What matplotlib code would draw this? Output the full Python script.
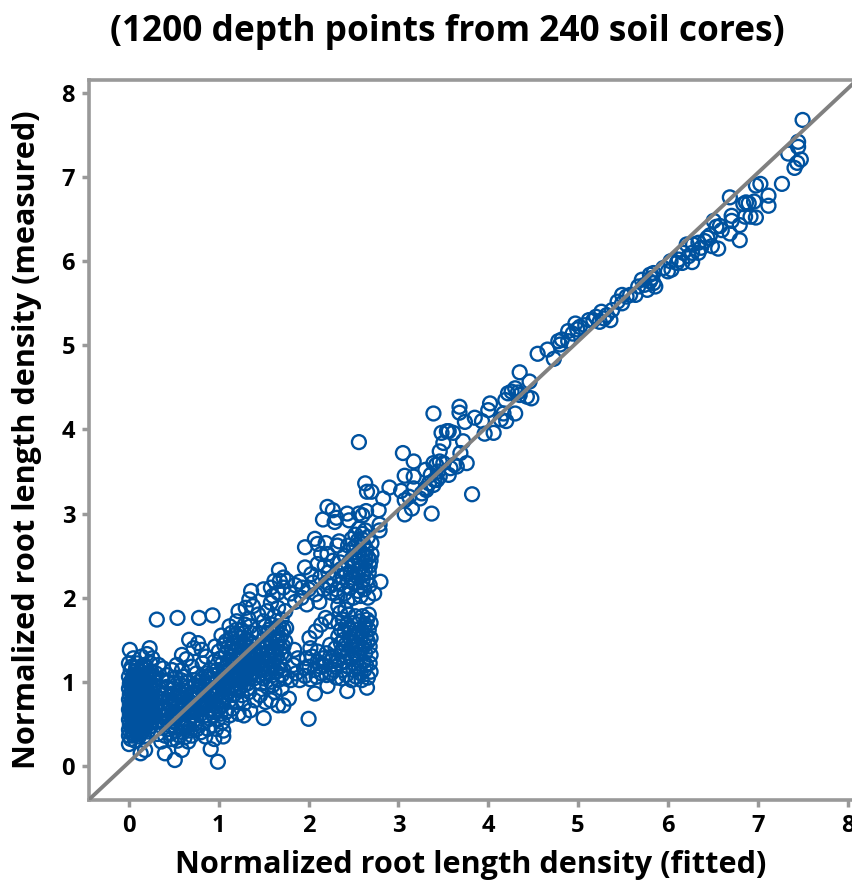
import matplotlib
matplotlib.use("Agg")
import matplotlib.pyplot as plt

plt.rcParams['font.family'] = ['Open Sans', 'DejaVu Sans']

# values (dense areas are estimates)
tail = [(7.50,7.68),(7.45,7.42),(7.45,7.36),(7.34,7.28),(7.48,7.21),(7.44,7.17),(7.41,7.11),(7.27,6.92),
        (7.03,6.92),(6.98,6.90),(7.12,6.78),(7.12,6.66),(6.69,6.76),(6.96,6.71),(6.90,6.69),(6.84,6.68),
        (6.87,6.70),(6.98,6.52),(6.92,6.53),(6.86,6.53),(6.80,6.43),(6.71,6.54),(6.71,6.48),(6.80,6.25),
        (6.69,6.33),(6.60,6.37),(6.54,6.41),(6.51,6.48),(6.56,6.15),(6.47,6.31),(6.49,6.18),(6.41,6.24),
        (6.34,6.22),(6.28,6.20),(6.21,6.20),(6.27,6.10),(6.34,6.10),(6.27,5.99),(6.17,6.10),(6.16,5.98),
        (6.10,5.98),(6.03,6.00),(6.00,5.88),(6.04,5.90),(5.84,5.86),(5.84,5.74),(5.86,5.70),(5.77,5.66),
        (5.80,5.84),(5.71,5.78),(5.67,5.70),(5.64,5.60),(5.54,5.58),(5.49,5.60),(5.49,5.50),(5.38,5.42),
        (5.36,5.30),(5.26,5.40),(5.24,5.28),(5.17,5.30),(5.12,5.30),(5.02,5.22),(4.97,5.26),(4.99,5.19),
        (4.89,5.17),(4.89,5.05),(4.82,5.07),(4.78,5.05),(4.80,5.01),(4.66,4.95),(4.55,4.90),(4.73,4.84),
        (6.58,6.42),(6.44,6.28),(6.37,6.16),(6.23,6.06),(6.12,6.02),(5.95,5.92),(5.80,5.76),(5.74,5.72),
        (5.82,5.80),(5.58,5.60),(5.44,5.52),(5.32,5.36),(5.20,5.34),(5.08,5.24),(4.94,5.14),(5.29,5.32)]

middle = [(4.35,4.68),(4.46,4.57),(4.48,4.37),(4.30,4.49),(4.22,4.43),(4.19,4.35),(4.35,4.41),(4.43,4.39),
          (4.26,4.45),(4.33,4.44),(4.02,4.31),(4.00,4.23),(3.68,4.27),(3.68,4.20),(3.39,4.19),(3.74,4.09),
          (3.85,4.14),(3.93,4.10),(4.17,4.19),(4.30,4.19),(4.20,4.10),(3.54,3.98),(3.48,3.96),(3.56,3.98),
          (3.61,3.96),(3.50,3.84),(3.46,3.74),(3.72,3.86),(3.69,3.72),(3.76,3.60),(3.56,3.46),(3.65,3.56),
          (3.82,3.23),(3.37,3.00),(3.96,3.95),(4.06,3.96),(4.14,4.12),(3.05,3.72),(3.17,3.62),(3.07,3.45),
          (3.17,3.44),(3.30,3.52),(3.39,3.60),(3.46,3.62),(3.42,3.58),(3.50,3.60),(3.58,3.54),(3.62,3.58),
          (3.36,3.46),(3.44,3.50),(3.40,3.40),(3.46,3.44),(3.34,3.36),(3.30,3.30),(2.56,3.85),(2.63,3.36),
          (2.65,3.26),(2.70,3.26),(2.90,3.31),(2.83,3.18),(3.03,3.27),(3.07,3.16),(3.15,3.06),(3.07,2.99),
          (3.17,3.30),(3.24,3.18),(3.31,3.28),(3.39,3.34),(3.43,3.40),(3.26,3.24),(3.12,3.20),(2.78,3.04)]

upper_block = [(2.21,3.08),(2.27,3.04),(2.16,2.93),(2.29,2.90),(2.31,2.95),(2.43,3.00),(2.45,2.92),(2.56,3.00),
               (2.64,3.03),(2.60,2.98),(2.79,2.87),(2.79,2.80),(2.52,2.75),(2.63,2.80),(2.50,2.59),(2.70,2.65),
               (2.56,2.82),(2.60,2.76),(2.66,2.72),(2.55,2.68),(2.61,2.64),(2.53,2.62),(2.64,2.58),(1.96,2.60),
               (2.07,2.70),(2.10,2.64),(2.19,2.65),(2.34,2.67),(2.21,2.52),(2.32,2.62),(2.35,2.42),(1.96,2.36),
               (2.10,2.40),(1.67,2.33),(1.62,2.20),(1.68,2.20),(1.76,2.20),(1.72,2.24),(1.90,2.19),(1.85,2.15),
               (2.80,2.19),(2.52,2.50),(2.60,2.52),(2.66,2.48),(2.56,2.44),(2.63,2.42),(2.68,2.38),(2.50,2.38),
               (2.58,2.36),(2.44,2.40),(2.40,2.33),(2.47,2.30),(2.53,2.26),(2.61,2.28),(2.67,2.30),(2.38,2.24),
               (2.44,2.20),(2.52,2.18),(2.60,2.20),(2.68,2.15),(2.73,2.05),(2.62,2.10),(2.55,2.08),(2.46,2.12),
               (2.35,2.16),(2.28,2.22),(2.22,2.30),(2.13,2.24),(2.05,2.18),(2.00,2.10),(2.08,2.04),(2.17,2.10),
               (2.25,2.06),(2.32,2.02),(2.40,2.05),(2.50,2.00),(2.58,2.02),(2.66,2.00),(2.43,1.96),(1.92,2.00),
               (1.85,1.95),(1.98,1.92),(1.72,2.12),(1.66,2.06),(1.60,2.02),(1.58,2.12),(2.12,1.95),(2.20,2.18),
               (2.48,2.46),(2.57,2.56),(2.63,2.50),(2.69,2.44),(2.55,2.32),(2.63,2.34),(2.49,2.24),(2.58,2.14),
               (2.65,2.22),(2.42,2.28),(2.36,2.34),(2.31,2.10),(2.24,2.14),(2.70,2.52),(2.59,2.70),(2.48,2.70),
               (2.14,2.52),(2.27,2.44),(2.03,2.28),(2.18,2.38),(1.93,2.12),(2.40,2.50),(2.44,2.62),(1.80,2.05)]

lower_block = [(2.00,0.56),(2.65,0.93),(2.43,0.89),(2.07,0.86),(2.21,0.95),(1.96,1.07),(2.02,1.03),(2.09,1.06),
               (1.95,1.16),(2.01,1.18),(2.07,1.14),(2.14,1.10),(2.18,1.19),(2.25,1.10),(2.31,1.05),(2.37,1.04),
               (2.42,1.08),(2.48,1.02),(2.53,1.06),(2.59,1.02),(2.66,1.05),(2.69,1.12),(2.62,1.14),(2.56,1.18),
               (2.50,1.14),(2.44,1.18),(2.38,1.14),(2.30,1.18),(2.24,1.24),(2.16,1.28),(2.10,1.24),(2.04,1.30),
               (1.98,1.28),(2.02,1.40),(2.10,1.36),(2.20,1.34),(2.27,1.30),(2.33,1.26),(2.40,1.24),(2.47,1.28),
               (2.54,1.26),(2.61,1.24),(2.68,1.22),(2.69,1.32),(2.63,1.34),(2.57,1.36),(2.51,1.34),(2.44,1.34),
               (2.37,1.36),(2.30,1.40),(2.24,1.44),(2.41,1.44),(2.48,1.42),(2.55,1.44),(2.62,1.44),(2.68,1.42),
               (2.69,1.52),(2.64,1.54),(2.58,1.52),(2.52,1.54),(2.46,1.52),(2.39,1.50),(2.33,1.54),(2.40,1.60),
               (2.46,1.62),(2.53,1.62),(2.60,1.60),(2.67,1.62),(2.69,1.70),(2.63,1.68),(2.57,1.72),(2.50,1.70),
               (2.43,1.68),(2.36,1.62),(2.33,1.70),(2.38,1.74),(2.44,1.80),(2.52,1.78),(2.60,1.78),(2.67,1.80),
               (2.35,1.82),(2.41,1.86),(2.33,1.90),(2.14,1.68),(2.08,1.60),(2.19,1.76),(2.24,1.72),(2.01,1.52),
               (1.88,1.28),(1.83,1.20),(1.86,1.10),(1.90,1.02),(1.80,1.02),(1.84,1.38),
               (2.58,1.10),(2.64,1.20),(2.54,1.32),(2.60,1.40),(2.66,1.48),(2.56,1.58),(2.62,1.64),(2.65,1.74),
               (2.13,1.18),(2.20,1.08),(2.28,1.14),(2.35,1.22),(2.42,1.30),(2.50,1.48),(2.36,1.46),(2.46,1.58)]

band = [(0.31,1.74),(0.54,1.76),(0.78,1.76),(0.93,1.79),(0.67,1.50),(0.77,1.46),(0.72,1.40),(0.81,1.38),
        (0.59,1.32),(0.64,1.27),(0.53,1.20),(0.48,1.14),(0.59,1.14),(0.42,1.08),(0.52,1.05),(0.62,1.06),
        (0.70,1.18),(0.75,1.10),(0.82,1.22),(0.86,1.30),(0.90,1.14),(0.96,1.42),(1.00,1.36),(0.95,1.24),
        (1.03,1.55),(1.08,1.48),(1.13,1.52),(1.02,1.28),(1.08,1.34),(1.14,1.40),(1.19,1.56),(1.25,1.62),
        (1.29,1.68),(1.33,1.75),(1.36,1.58),(1.30,1.50),(1.22,1.44),(1.16,1.30),(1.24,1.34),(1.32,1.40),
        (1.38,1.46),(1.10,1.20),(1.18,1.18),(1.26,1.22),(1.34,1.28),(1.40,1.34),(1.37,1.16),(1.30,1.10),
        (1.22,1.06),(1.14,1.08),(1.06,1.10),(0.98,1.02),(0.90,0.98),(0.82,1.04),(0.74,0.96),(0.66,0.94),
        (0.58,0.96),(0.50,0.92),(0.42,0.94),(0.44,0.82),(0.52,0.80),(0.60,0.84),(0.68,0.82),(0.76,0.86),
        (0.84,0.90),(0.92,0.84),(1.00,0.92),(1.08,0.98),(1.16,0.96),(1.24,0.94),(1.32,0.98),(1.39,1.04),
        (1.34,0.88),(1.26,0.84),(1.18,0.86),(1.10,0.88),(1.02,0.82),(0.94,0.74),(0.86,0.78),(0.78,0.72),
        (0.70,0.70),(0.62,0.74),(0.54,0.70),(0.46,0.72),(0.40,0.66),(0.48,0.60),(0.56,0.62),(0.64,0.62),
        (0.72,0.60),(0.80,0.62),(0.88,0.66),(0.96,0.64),(1.04,0.72),(1.12,0.78),(1.20,0.76),(1.28,0.74),
        (1.15,0.68),(1.22,0.62),(1.08,0.64),(0.99,0.55),(0.90,0.56),(0.82,0.52),(0.74,0.50),(0.66,0.52),
        (0.58,0.50),(0.50,0.52),(0.42,0.54),(0.44,0.44),(0.52,0.42),(0.60,0.40),(0.68,0.42),(0.76,0.44),
        (0.36,0.29),(0.40,0.36),(0.47,0.32),(0.54,0.30),(0.62,0.34),(0.66,0.29),(0.59,0.19),(0.51,0.07),
        (0.40,0.15),(0.99,0.05),(0.91,0.20),(1.05,0.35),(0.85,0.35),(0.95,0.32),(1.05,0.42),(0.88,0.44),
        (0.97,0.44),(1.04,0.52),(1.50,0.57),(1.28,0.60),(1.35,0.66),(1.40,0.78),(1.46,0.84),(1.52,0.76),
        (1.58,0.78),(1.66,0.72),(1.72,0.72),(1.78,0.80),(1.62,0.88),(1.70,0.92),(1.54,0.94),(1.47,0.98),
        (1.44,1.08),(1.50,1.04),(1.58,1.00),(1.66,1.02),(1.74,1.04),(1.72,1.14),(1.64,1.12),(1.56,1.10),
        (1.48,1.16),(1.43,1.22),(1.52,1.22),(1.60,1.20),(1.68,1.22),(1.73,1.30),(1.65,1.30),(1.57,1.30),
        (1.49,1.32),(1.45,1.40),(1.53,1.40),(1.61,1.38),(1.69,1.40),(1.74,1.48),(1.66,1.48),(1.58,1.48),
        (1.50,1.50),(1.45,1.58),(1.54,1.58),(1.62,1.58),(1.70,1.56),(1.75,1.64),(1.67,1.66),(1.59,1.68),
        (1.50,1.72),(1.44,1.80),(1.54,1.84),(1.62,1.78),(1.70,1.74),(1.74,1.84),(1.66,1.88),(1.58,1.94),
        (1.50,2.10),(1.36,2.08),(1.34,1.98),(1.30,1.88),(1.38,1.90),(1.22,1.84),(1.20,1.72),(1.12,1.66),
        (0.26,1.28),(0.33,1.20),(0.38,1.16),(0.30,1.10),(0.37,1.02),(0.34,0.92),(0.30,0.82),(0.36,0.76),
        (0.29,0.70),(0.35,0.60),(0.30,0.52),(0.35,0.48),(0.32,0.38),(0.27,0.42),(0.18,0.19),(0.13,0.15)]

blob = [(0.01,1.38),(0.23,1.40),(0.20,1.33),(0.14,1.30),(0.05,1.28),(0.00,1.22),(0.09,1.22),(0.16,1.20),
        (0.24,1.22),(0.02,1.14),(0.07,1.12),(0.13,1.12),(0.19,1.10),(0.25,1.12),(0.00,1.06),(0.04,1.04),
        (0.10,1.05),(0.15,1.03),(0.21,1.04),(0.27,1.02),(0.01,0.98),(0.06,0.97),(0.12,0.96),(0.18,0.97),
        (0.24,0.95),(0.00,0.92),(0.04,0.90),(0.09,0.91),(0.15,0.90),(0.21,0.89),(0.27,0.90),(0.01,0.85),
        (0.06,0.84),(0.12,0.85),(0.18,0.83),(0.24,0.83),(0.00,0.79),(0.03,0.78),(0.08,0.79),(0.14,0.78),
        (0.20,0.77),(0.26,0.76),(0.01,0.73),(0.05,0.72),(0.11,0.73),(0.17,0.72),(0.23,0.71),(0.00,0.67),
        (0.03,0.66),(0.08,0.67),(0.14,0.66),(0.20,0.65),(0.26,0.65),(0.01,0.61),(0.06,0.60),(0.11,0.61),
        (0.17,0.60),(0.23,0.59),(0.00,0.55),(0.04,0.54),(0.09,0.55),(0.14,0.54),(0.20,0.53),(0.26,0.54),
        (0.01,0.49),(0.06,0.48),(0.12,0.48),(0.18,0.47),(0.24,0.47),(0.00,0.43),(0.04,0.42),(0.09,0.42),
        (0.15,0.41),(0.21,0.41),(0.00,0.36),(0.05,0.36),(0.11,0.35),(0.17,0.35),(0.00,0.26),(0.02,0.32),
        (0.07,0.30),(0.02,1.00),(0.03,0.87),(0.07,0.75),(0.02,0.63),(0.07,0.52),(0.03,0.46),(0.10,0.82),
        (0.13,0.70),(0.05,0.94),(0.16,0.86),(0.19,0.74),(0.22,0.62),(0.10,0.58),(0.16,0.50),(0.12,0.44),
        (0.03,0.96),(0.08,0.99),(0.13,0.93),(0.18,0.92),(0.23,0.99),(0.05,0.81),(0.09,0.76),(0.15,0.82),
        (0.21,0.80),(0.26,0.86),(0.02,0.70),(0.06,0.69),(0.11,0.68),(0.16,0.68),(0.22,0.68),(0.03,0.58),
        (0.08,0.63),(0.13,0.57),(0.18,0.56),(0.24,0.62),(0.04,0.50),(0.09,0.49),(0.14,0.50),(0.19,0.51),
        (0.06,0.44),(0.11,0.46),(0.16,0.45),(0.04,0.39),(0.09,0.38),(0.13,0.39),(0.03,1.18),(0.08,1.17),
        (0.14,1.16),(0.19,1.18),(0.05,1.08),(0.10,1.00),(0.16,1.07),(0.22,1.08),(0.28,0.96),(0.28,0.60),
        (0.12,0.78),(0.17,0.76),(0.07,0.86),(0.10,0.70),(0.16,0.62),(0.21,0.56),(0.25,0.70),(0.12,0.90)]

# middle of the band, filled up so it reads solid like the reference
band_core = [(0.75,0.80),(0.80,0.92),(0.88,1.06),(0.95,0.92),(1.02,1.00),(1.08,1.06),(1.12,1.14),(1.18,1.04),
             (1.14,0.92),(1.05,0.90),(1.20,1.12),(1.26,1.14),(1.30,1.04),(1.28,1.30),(1.20,1.26),(1.12,1.26),
             (1.34,1.20),(1.38,1.26),(1.36,1.10),(1.26,1.02),(1.34,1.04),(1.32,0.92),(1.22,0.90),(1.08,0.82),
             (1.00,0.78),(0.92,0.90),(0.84,0.84),(0.72,0.88),(0.64,0.88),(0.56,0.88),(0.48,0.86),(0.40,0.86),
             (0.44,0.76),(0.52,0.74),(0.60,0.78),(0.68,0.76),(0.76,0.66),(0.84,0.70),(0.92,0.68),(1.00,0.68),
             (0.42,0.60),(0.50,0.64),(0.58,0.66),(0.66,0.66),(0.72,0.54),(0.64,0.46),(0.56,0.56),(0.46,0.48),
             (1.32,1.34),(1.26,1.40),(1.34,1.48),(1.24,1.52),(1.16,1.46),(1.10,1.40),(1.04,1.22),(0.98,1.14),
             (0.92,1.04),(0.86,0.96),(0.80,0.76),(0.70,0.64),(1.38,1.38),(1.36,1.30),(1.39,1.18),(1.30,1.20),
             (0.36,0.84),(0.38,0.70),(0.33,0.66),(0.40,0.58),(0.36,0.54),(0.44,0.66),(0.48,0.78),(0.54,0.84),
             (0.56,0.76),(0.62,0.68),(0.66,0.78),(0.70,0.86),(0.78,0.82),(0.82,0.68),(0.88,0.74),(0.90,0.80),
             (0.96,0.84),(0.98,0.72),(1.04,0.78),(1.06,0.96),(1.12,1.00),(1.10,0.92),(1.16,1.02),(1.18,0.92),
             (1.22,0.98),(1.24,1.08),(1.28,0.96),(1.20,1.20),(1.24,1.28),(1.30,1.26),(1.34,1.14),(1.28,1.16),
             (1.16,1.14),(1.06,1.16),(1.00,1.10),(0.94,1.08),(0.86,1.10),(0.78,1.00),(0.72,1.02),(0.66,1.00),
             (0.58,1.02),(0.50,0.98),(0.44,1.00),(1.36,1.22),(1.38,1.12),(1.26,1.34),(1.18,1.36),(1.30,1.44),
             (1.50,1.10),(1.54,1.16),(1.60,1.08),(1.66,1.16),(1.70,1.08),(1.62,1.26),(1.55,1.26),(1.70,1.34),
             (1.62,1.32),(1.55,1.34),(1.50,1.44),(1.58,1.42),(1.65,1.42),(1.72,1.42),(1.56,1.52),(1.62,1.52),
             (1.68,1.52),(1.48,1.26),(1.46,1.34),(1.52,1.66),(1.64,1.64),(1.72,1.62),(1.56,1.62),(1.60,0.96),
             (0.46,0.38),(0.56,0.36),(0.70,0.36),(0.80,0.40),(0.60,0.46),(0.52,0.58),(0.74,0.68),(0.86,0.60),
             (0.94,0.60),(1.02,0.62),(1.12,0.60),(1.06,1.44),(1.14,1.58),(1.20,1.62),(1.28,1.58),(1.35,1.66)]

groups = [blob, band, band_core, lower_block, upper_block, middle, tail]
ticks = [0, 1, 2, 3, 4, 5, 6, 7, 8]
xs = []
ys = []
for g in groups:
    for p in g:
        xs.append(p[0])
        ys.append(p[1])

fig = plt.figure(figsize=(8.52, 8.81), dpi=100)
ax = fig.add_axes([89 / 852, 1 - 800 / 881, (852 - 89) / 852, 720 / 881])

ax.scatter(xs, ys, s=100, facecolors='none', edgecolors='#00529F', linewidths=1.7, zorder=2, clip_on=False)
ax.plot([-0.445, 8.05], [-0.40, 8.10], color='#808080', lw=2.8, zorder=3)

ax.set_xlim(-0.445, 8.05)
ax.set_ylim(-0.405, 8.155)
ax.set_xticks(ticks)
ax.set_yticks(ticks)
ax.tick_params(length=5, width=2.5, color='#999999', labelsize=17, pad=5)
for lab in ax.get_xticklabels() + ax.get_yticklabels():
    lab.set_fontweight('bold')
for s in ['left', 'top', 'bottom']:
    ax.spines[s].set_color('#999999')
    ax.spines[s].set_linewidth(2.6)
ax.spines['right'].set_visible(False)

ax.set_xlabel('Normalized root length density (fitted)', fontsize=22.1, fontweight='bold', labelpad=9)
ax.set_ylabel('Normalized root length density (measured)', fontsize=22.1, fontweight='bold', labelpad=14)
fig.text(447 / 852, 1 - 32 / 881, '(1200 depth points from 240 soil cores)', fontsize=25.4, fontweight='bold',
         ha='center', va='center')

fig.savefig('out.png', dpi=100)
